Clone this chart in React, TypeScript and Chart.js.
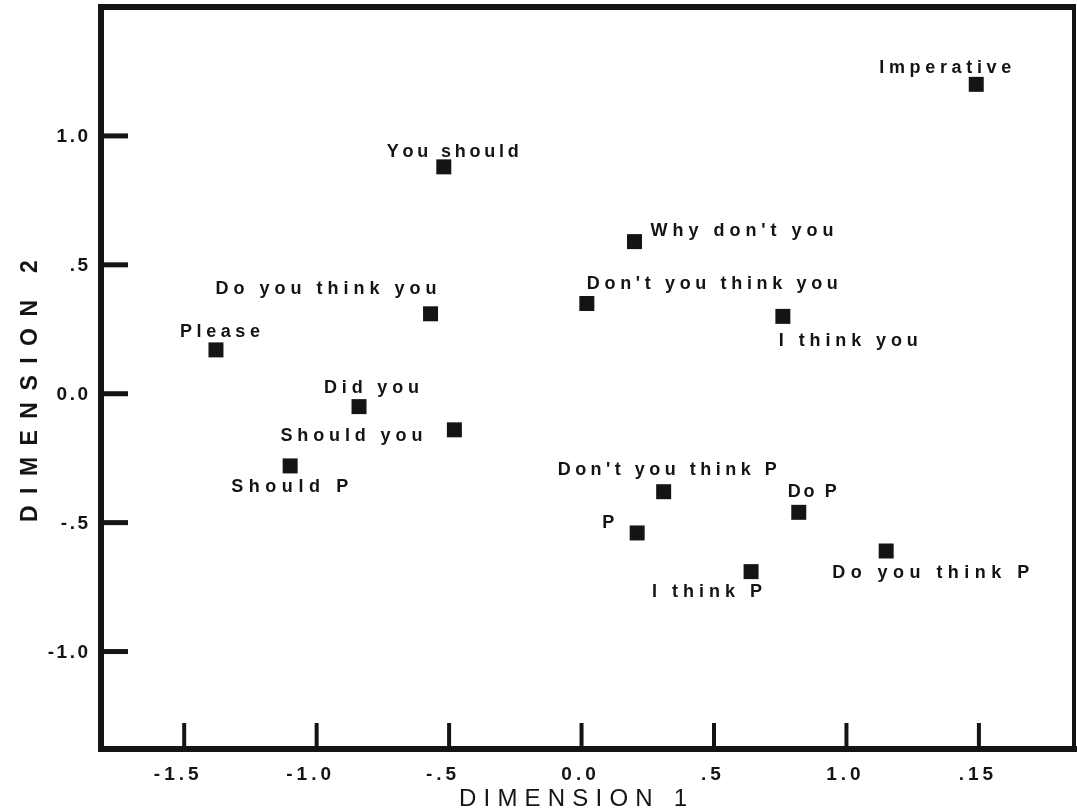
import React, { useEffect, useRef } from "react";
import { Chart, registerables } from "chart.js";

Chart.register(...registerables);

// ---------- data ----------
const pointLabels = [
  "Imperative",
  "You should",
  "Why don't you",
  "Don't you think you",
  "I think you",
  "Do you think you",
  "Please",
  "Did you",
  "Should you",
  "Should P",
  "Don't you think P",
  "Do P",
  "P",
  "Do you think P",
  "I think P",
];
const dimension1 = [1.49, -0.52, 0.2, 0.02, 0.76, -0.57, -1.38, -0.84, -0.48, -1.1, 0.31, 0.82, 0.21, 1.15, 0.64];
const dimension2 = [1.2, 0.88, 0.59, 0.35, 0.3, 0.31, 0.17, -0.05, -0.14, -0.28, -0.38, -0.46, -0.54, -0.61, -0.69];

const xTickValues = [-1.5, -1, -0.5, 0, 0.5, 1, 1.5];
const xTickLabels = ["-1.5", "-1.0", "-.5", "0.0", ".5", "1.0", ".15"];
const yTickValues = [1, 0.5, 0, -0.5, -1];
const yTickLabels = ["1.0", ".5", "0.0", "-.5", "-1.0"];
const xTitle = "DIMENSION 1";
const yTitle = "DIMENSION 2";
const xRange = [-1.814, 1.859];
const yRange = [-1.378, 1.5];

// ---------- style / layout ----------
const INK = "#141414";
const AREA = { left: 101, right: 1074, top: 7, bottom: 749 };
const W = 1077;
const H = 811;

type Place = { dx: number; dy: number; w: number };
const labelPlacement: Record<string, Place> = {
  "Imperative": { dx: -97, dy: -18, w: 132 },
  "You should": { dx: -57, dy: -16, w: 132 },
  "Why don't you": { dx: 16, dy: -12, w: 183 },
  "Don't you think you": { dx: 0, dy: -21, w: 251 },
  "I think you": { dx: -4, dy: 23, w: 139 },
  "Do you think you": { dx: -215, dy: -26, w: 221 },
  "Please": { dx: -36, dy: -19, w: 80 },
  "Did you": { dx: -35, dy: -20, w: 95 },
  "Should you": { dx: -174, dy: 5, w: 142 },
  "Should P": { dx: -59, dy: 20, w: 117 },
  "Don't you think P": { dx: -106, dy: -23, w: 219 },
  "Do P": { dx: -11, dy: -22, w: 49 },
  "P": { dx: -35, dy: -11, w: 11 },
  "Do you think P": { dx: -54, dy: 21, w: 197 },
  "I think P": { dx: -99, dy: 19, w: 110 },
};

const LABEL_FONT = 'bold 18px "Liberation Sans", Arial, sans-serif';
const TICK_FONT = 'bold 19px "Liberation Sans", Arial, sans-serif';
const XTITLE_FONT = '24px "Liberation Sans", Arial, sans-serif';
const YTITLE_FONT = 'bold 23px "Liberation Sans", Arial, sans-serif';

function charWidths(ctx: CanvasRenderingContext2D, text: string) {
  return Array.from(text).map((ch) => ctx.measureText(ch).width);
}
function drawSpaced(ctx: CanvasRenderingContext2D, text: string, x: number, y: number, spacing: number) {
  let cx = x;
  for (const ch of Array.from(text)) {
    ctx.fillText(ch, cx, y);
    cx += ctx.measureText(ch).width + spacing;
  }
}
function spacedWidth(ctx: CanvasRenderingContext2D, text: string, spacing: number) {
  const ws = charWidths(ctx, text);
  return ws.reduce((a, b) => a + b, 0) + spacing * (ws.length - 1);
}
function drawFitted(ctx: CanvasRenderingContext2D, text: string, x: number, y: number, width: number) {
  const ws = charWidths(ctx, text);
  const sum = ws.reduce((a, b) => a + b, 0);
  const sp = ws.length > 1 ? (width - sum) / (ws.length - 1) : 0;
  drawSpaced(ctx, text, x, y, sp);
}
function line(ctx: CanvasRenderingContext2D, x1: number, y1: number, x2: number, y2: number) {
  ctx.beginPath();
  ctx.moveTo(x1, y1);
  ctx.lineTo(x2, y2);
  ctx.stroke();
}

const decorPlugin = {
  id: "decor",
  afterDraw(chart: any) {
    const { ctx, chartArea: a, scales } = chart;
    const xs = scales.x;
    const ys = scales.y;
    ctx.save();
    ctx.fillStyle = INK;
    ctx.strokeStyle = INK;
    ctx.lineCap = "butt";

    // frame
    ctx.lineWidth = 6;
    line(ctx, a.left, a.top - 3, a.left, a.bottom + 3);
    line(ctx, a.left - 3, a.bottom, W, a.bottom);
    line(ctx, a.left - 3, a.top, a.right + 2, a.top);
    ctx.lineWidth = 4;
    line(ctx, a.right, a.top - 3, a.right, a.bottom);

    // inner tick marks
    ctx.lineWidth = 4;
    xTickValues.forEach((v) => {
      const px = xs.getPixelForValue(v);
      line(ctx, px, a.bottom, px, a.bottom - 26);
    });
    ctx.lineWidth = 5;
    yTickValues.forEach((v) => {
      const py = ys.getPixelForValue(v);
      line(ctx, a.left, py, a.left + 27, py);
    });

    // tick labels
    ctx.font = TICK_FONT;
    ctx.textBaseline = "alphabetic";
    ctx.textAlign = "left";
    xTickValues.forEach((v, i) => {
      const px = xs.getPixelForValue(v);
      const t = xTickLabels[i];
      const w = spacedWidth(ctx, t, 4);
      const shift = t.startsWith("-") ? -8 : -3;
      drawSpaced(ctx, t, px + shift - w / 2, a.bottom + 31, 4);
    });
    yTickValues.forEach((v, i) => {
      const py = ys.getPixelForValue(v);
      const t = yTickLabels[i];
      const w = spacedWidth(ctx, t, 2.5);
      drawSpaced(ctx, t, 88 - w, py + 6, 2.5);
    });

    // axis titles
    ctx.font = XTITLE_FONT;
    drawFitted(ctx, xTitle, 459, 806, 228);

    ctx.font = YTITLE_FONT;
    const [yWord, yNum] = yTitle.split(" ");
    ctx.save();
    ctx.translate(29, 522);
    ctx.rotate(-Math.PI / 2);
    drawFitted(ctx, yWord, 0, 8.2, 222);
    ctx.fillText(yNum, 249, 8.2);
    ctx.restore();

    // point labels
    ctx.font = LABEL_FONT;
    const meta = chart.getDatasetMeta(0);
    meta.data.forEach((el: any, i: number) => {
      const name = pointLabels[i];
      const p = labelPlacement[name];
      if (!p) return;
      drawFitted(ctx, name, el.x + p.dx, el.y + p.dy + 6.5, p.w);
    });

    ctx.restore();
  },
};

export default function App() {
  const ref = useRef<HTMLCanvasElement | null>(null);

  useEffect(() => {
    const canvas = ref.current;
    if (!canvas) return;
    const chart = new Chart(canvas, {
      type: "scatter",
      data: {
        datasets: [
          {
            label: "Requests",
            data: dimension1.map((x, i) => ({ x, y: dimension2[i] })),
            pointStyle: "rect",
            pointRadius: 10.6,
            pointHoverRadius: 10.6,
            backgroundColor: INK,
            borderWidth: 0,
            clip: false as any,
          },
        ],
      },
      options: {
        animation: false,
        responsive: false,
        maintainAspectRatio: false,
        events: [],
        layout: {
          autoPadding: false,
          padding: { top: AREA.top, right: W - AREA.right, left: 0, bottom: 0 },
        },
        plugins: {
          legend: { display: false },
          tooltip: { enabled: false },
        },
        scales: {
          x: {
            type: "linear",
            min: xRange[0],
            max: xRange[1],
            grid: { display: false },
            border: { display: false },
            ticks: { display: false },
            afterBuildTicks: (s: any) => {
              s.ticks = xTickValues.map((v) => ({ value: v }));
            },
            afterFit: (s: any) => {
              s.height = H - AREA.bottom;
            },
          },
          y: {
            type: "linear",
            min: yRange[0],
            max: yRange[1],
            grid: { display: false },
            border: { display: false },
            ticks: { display: false },
            afterBuildTicks: (s: any) => {
              s.ticks = yTickValues.map((v) => ({ value: v }));
            },
            afterFit: (s: any) => {
              s.width = AREA.left;
            },
          },
        },
      },
      plugins: [decorPlugin],
    });
    return () => chart.destroy();
  }, []);

  return (
    <div style={{ position: "fixed", left: 0, top: 0, width: W, height: H, background: "#fff" }}>
      <canvas ref={ref} width={W} height={H} style={{ display: "block", width: W, height: H }} />
    </div>
  );
}
